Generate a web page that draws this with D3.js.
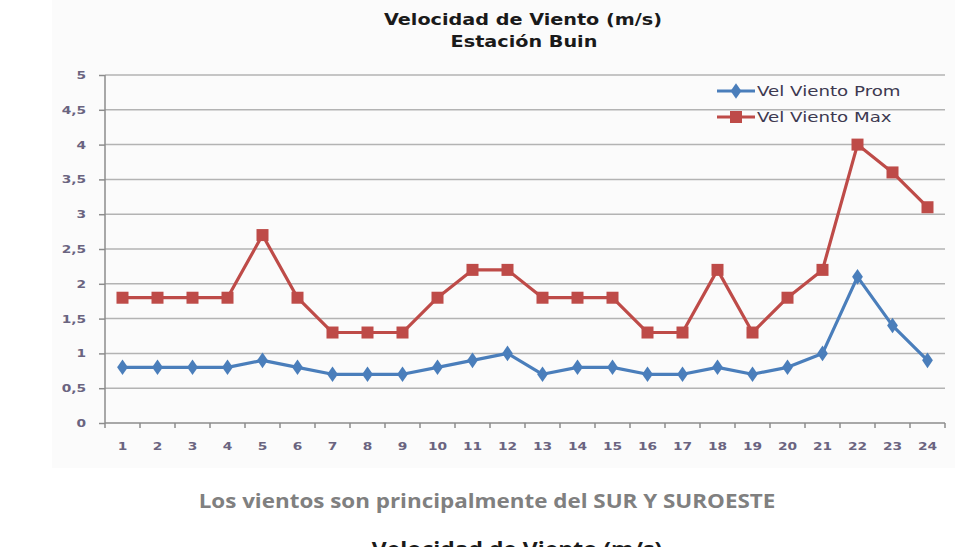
<!DOCTYPE html>
<html>
<head>
<meta charset="utf-8">
<script src="https://cdn.jsdelivr.net/npm/d3@7"></script>
<style>
  body { margin: 0; background: #fff; }
  svg { display: block; }
</style>
</head>
<body>
<svg id="chart" width="976" height="547"></svg>
<script>
let hours = ["1","2","3","4","5","6","7","8","9","10","11","12","13","14","15","16","17","18","19","20","21","22","23","24"];
let velProm = [0.8,0.8,0.8,0.8,0.9,0.8,0.7,0.7,0.7,0.8,0.9,1.0,0.7,0.8,0.8,0.7,0.7,0.8,0.7,0.8,1.0,2.1,1.4,0.9];
let velMax = [1.8,1.8,1.8,1.8,2.7,1.8,1.3,1.3,1.3,1.8,2.2,2.2,1.8,1.8,1.8,1.3,1.3,2.2,1.3,1.8,2.2,4.0,3.6,3.1];
let yTicks = [0,0.5,1,1.5,2,2.5,3,3.5,4,4.5,5];
let seriesNames = ["Vel Viento Prom", "Vel Viento Max"];

let svg = d3.select("#chart");
let plotLeft = 105, plotRight = 945, plotTop = 75, plotBottom = 423;
let blue = "#4a7ebb", red = "#be4b48";

// the source image is stretched sideways, so widen text to match
function stretch(sel, factor) {
  sel.each(function() {
    let len = this.getComputedTextLength();
    d3.select(this)
      .attr("textLength", len * factor)
      .attr("lengthAdjust", "spacingAndGlyphs");
  });
}

// faint chart background
svg.append("rect")
  .attr("x", 52).attr("y", 0)
  .attr("width", 903).attr("height", 468)
  .attr("fill", "#fbfbfb");

let x = d3.scaleBand().domain(hours).range([plotLeft, plotRight]);
let y = d3.scaleLinear().domain([0, 5]).range([plotBottom, plotTop]);

let fmt = function(d) { return String(d).replace(".", ","); };

// gridlines
svg.append("g")
  .selectAll("line")
  .data(yTicks.slice(1))
  .enter()
  .append("line")
  .attr("x1", plotLeft).attr("x2", plotRight)
  .attr("y1", function(d) { return y(d); })
  .attr("y2", function(d) { return y(d); })
  .attr("stroke", "#b3b3b3")
  .attr("stroke-width", 1.5);

// y axis
let yAxis = svg.append("g")
  .attr("transform", "translate(" + plotLeft + ",0)")
  .call(d3.axisLeft(y).tickValues(yTicks).tickFormat(fmt).tickSize(6).tickPadding(13));

// x axis: ticks at band boundaries
let xAxis = svg.append("g")
  .attr("transform", "translate(0," + plotBottom + ")")
  .call(d3.axisBottom(x).tickSize(0).tickPadding(19));

xAxis.selectAll(".bound")
  .data(hours.concat(["end"]))
  .enter()
  .append("line")
  .attr("class", "bound")
  .attr("x1", function(d, i) { return plotLeft + i * x.step(); })
  .attr("x2", function(d, i) { return plotLeft + i * x.step(); })
  .attr("y1", 0).attr("y2", 5)
  .attr("stroke", "#8c8c8c")
  .attr("stroke-width", 1.5);

[xAxis, yAxis].forEach(function(g) {
  g.select(".domain").attr("stroke", "#8c8c8c").attr("stroke-width", 1.5);
  g.selectAll(".tick line").attr("stroke", "#8c8c8c").attr("stroke-width", 1.5);
  g.selectAll("text")
    .attr("font-family", "DejaVu Sans, Verdana, sans-serif")
    .attr("font-size", 11)
    .attr("font-weight", "bold")
    .attr("fill", "#6a6480");
  stretch(g.selectAll("text"), 1.25);
});
yAxis.select(".domain").attr("d", "M0," + plotBottom + "V" + plotTop);
xAxis.select(".domain").attr("d", "M" + plotLeft + ",0H" + plotRight);

let line = d3.line()
  .x(function(d, i) { return x(hours[i]) + x.bandwidth() / 2; })
  .y(function(d) { return y(d); });

// Max series
svg.append("path")
  .datum(velMax)
  .attr("d", line)
  .attr("fill", "none")
  .attr("stroke", red)
  .attr("stroke-width", 3.2)
  .attr("stroke-linejoin", "round");

svg.append("g")
  .selectAll("rect")
  .data(velMax)
  .enter()
  .append("rect")
  .attr("x", function(d, i) { return x(hours[i]) + x.bandwidth() / 2 - 6; })
  .attr("y", function(d) { return y(d) - 6; })
  .attr("width", 12).attr("height", 12)
  .attr("fill", red);

// Prom series
svg.append("path")
  .datum(velProm)
  .attr("d", line)
  .attr("fill", "none")
  .attr("stroke", blue)
  .attr("stroke-width", 3.2)
  .attr("stroke-linejoin", "round");

let diamond = d3.symbol().type(d3.symbolDiamond).size(70);
svg.append("g")
  .selectAll("path")
  .data(velProm)
  .enter()
  .append("path")
  .attr("d", diamond)
  .attr("transform", function(d, i) {
    return "translate(" + (x(hours[i]) + x.bandwidth() / 2) + "," + y(d) + ") scale(1.2,1)";
  })
  .attr("fill", blue);

// legend
let legend = svg.append("g");
let legendColors = [blue, red];
seriesNames.forEach(function(name, i) {
  let ly = 91 + i * 26;
  legend.append("line")
    .attr("x1", 717).attr("x2", 755)
    .attr("y1", ly).attr("y2", ly)
    .attr("stroke", legendColors[i])
    .attr("stroke-width", 3.2);
  if (i == 0) {
    legend.append("path")
      .attr("d", diamond)
      .attr("transform", "translate(736," + ly + ") scale(1.2,1)")
      .attr("fill", blue);
  } else {
    legend.append("rect")
      .attr("x", 730).attr("y", ly - 6)
      .attr("width", 12).attr("height", 12)
      .attr("fill", red);
  }
  legend.append("text")
    .attr("x", 757).attr("y", ly + 5)
    .attr("font-family", "DejaVu Sans, Verdana, sans-serif")
    .attr("font-size", 14)
    .attr("fill", "#3d3950")
    .text(name);
});
stretch(legend.selectAll("text"), 1.3);

// titles
let titles = svg.append("g")
  .attr("text-anchor", "middle")
  .attr("font-family", "DejaVu Sans, Verdana, sans-serif")
  .attr("font-weight", "bold")
  .attr("font-size", 15)
  .attr("fill", "#1a1a1a");

titles.append("text")
  .attr("x", 523).attr("y", 25)
  .text("Velocidad de Viento (m/s)");

titles.append("text")
  .attr("x", 524).attr("y", 47)
  .text("Estación Buin");
stretch(titles.selectAll("text"), 1.28);

let note = svg.append("text")
  .attr("x", 487).attr("y", 508)
  .attr("text-anchor", "middle")
  .attr("font-family", "Open Sans, sans-serif")
  .attr("font-weight", "bold")
  .attr("font-size", 20)
  .attr("fill", "#808080")
  .text("Los vientos son principalmente del SUR Y SUROESTE");
stretch(note, 1.12);

let nextTitle = svg.append("text")
  .attr("x", 517).attr("y", 557)
  .attr("text-anchor", "middle")
  .attr("font-family", "Open Sans, sans-serif")
  .attr("font-weight", "bold")
  .attr("font-size", 21)
  .attr("fill", "#1a1a1a")
  .text("Velocidad de Viento (m/s)");
stretch(nextTitle, 1.09);
</script>
</body>
</html>
